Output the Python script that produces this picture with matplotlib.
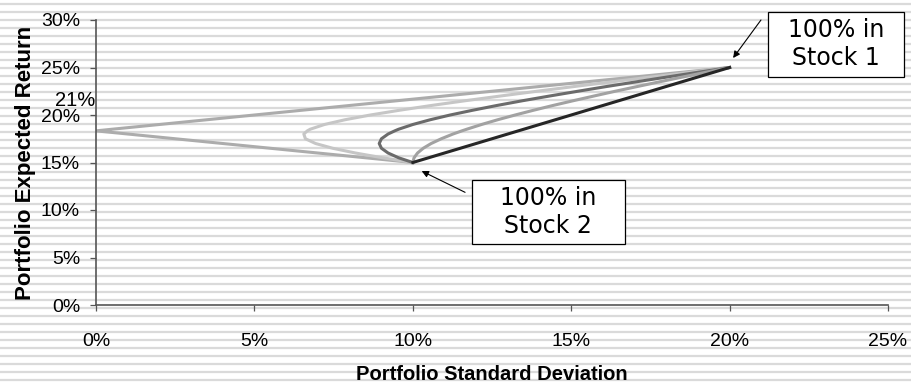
import matplotlib.pyplot as plt
import matplotlib.patches as patches
import numpy as np
from matplotlib.ticker import FuncFormatter

# expected return (%) along each curve, stock 2 -> stock 1
ret = [15.0, 15.5, 16.0, 16.5, 17.0, 17.5, 18.0, 18.33, 18.5, 19.0, 19.5,
       20.0, 20.5, 21.0, 21.5, 22.0, 22.5, 23.0, 23.5, 24.0, 24.5, 25.0]

# portfolio standard deviation (%) for each correlation
sd_neg1 = [10.0, 8.5, 7.0, 5.5, 4.0, 2.5, 1.0, 0.0, 0.5, 2.0, 3.5,
           5.0, 6.5, 8.0, 9.5, 11.0, 12.5, 14.0, 15.5, 17.0, 18.5, 20.0]
sd_neg05 = [10.0, 9.04, 8.19, 7.47, 6.93, 6.61, 6.56, 6.67, 6.76, 7.21, 7.86,
            8.66, 9.58, 10.58, 11.65, 12.77, 13.92, 15.10, 16.30, 17.52, 18.76, 20.0]
sd_zero = [10.0, 9.55, 9.22, 9.01, 8.94, 9.01, 9.22, 9.43, 9.55, 10.0, 10.55,
           11.18, 11.89, 12.65, 13.46, 14.32, 15.21, 16.12, 17.07, 18.03, 19.01, 20.0]
sd_pos05 = [10.0, 10.04, 10.15, 10.33, 10.58, 10.90, 11.27, 11.55, 11.70, 12.17, 12.68,
            13.23, 13.81, 14.42, 15.06, 15.72, 16.39, 17.09, 17.80, 18.52, 19.25, 20.0]
sd_pos1 = [10.0, 10.5, 11.0, 11.5, 12.0, 12.5, 13.0, 13.33, 13.5, 14.0, 14.5,
           15.0, 15.5, 16.0, 16.5, 17.0, 17.5, 18.0, 18.5, 19.0, 19.5, 20.0]

curves = [sd_neg1, sd_neg05, sd_zero, sd_pos05, sd_pos1]
colors = ['#acacac', '#c6c6c6', '#6b6b6b', '#a2a2a2', '#262626']

xticks = [0, 5, 10, 15, 20, 25]
yticks = [0, 5, 10, 15, 20, 25, 30]

W, H = 912, 387
fig = plt.figure(figsize=(W / 100, H / 100), dpi=100)
fig.patch.set_facecolor('white')

# striped background over the whole figure
bg = fig.add_axes([0, 0, 1, 1], zorder=-1)
bg.set_xlim(0, W)
bg.set_ylim(H, 0)
bg.hlines(np.arange(4, H, 8.0), 0, W, color='#dadada', lw=1.6)
bg.axis('off')

ax = fig.add_axes([96 / W, (H - 305) / H, (888 - 96) / W, (305 - 20) / H])
ax.set_facecolor('none')

for sd, c in zip(curves, colors):
    ax.plot(sd, ret, color=c, lw=2.2, solid_joinstyle='round')

ax.set_xlim(0, 25)
ax.set_ylim(0, 30)
ax.set_xticks(xticks)
ax.set_yticks(yticks)
pct = FuncFormatter(lambda v, p: f'{v:.0f}%')
ax.xaxis.set_major_formatter(pct)
ax.yaxis.set_major_formatter(pct)

for s in ['top', 'right']:
    ax.spines[s].set_visible(False)
for s in ['left', 'bottom']:
    ax.spines[s].set_color('#555555')
    ax.spines[s].set_linewidth(1.2)

tick_font = 'Liberation Sans'
ax.tick_params(axis='both', direction='out', length=4.5, width=0.9, color='#555555',
               labelsize=14)
ax.tick_params(axis='x', pad=16)
ax.tick_params(axis='y', pad=7)
for lab in ax.get_xticklabels() + ax.get_yticklabels():
    lab.set_fontfamily(tick_font)

ax.set_xlabel('Portfolio Standard Deviation', fontfamily=tick_font,
              fontweight='bold', fontsize=14.5)
ax.xaxis.set_label_coords(0.5, -0.21)
ax.set_ylabel('Portfolio Expected Return', fontfamily=tick_font,
              fontweight='bold', fontsize=16)
ax.yaxis.set_label_coords(-0.076, 0.5)

# stray value label next to the y axis
ax.text(-0.66, 20.9, '21%', fontfamily=tick_font, fontsize=14.5,
        ha='center', va='baseline', clip_on=False)

# callout boxes
box_font = 'DejaVu Sans'
ax.add_patch(patches.Rectangle((21.21, 24.05), 4.29, 6.79, transform=ax.transData,
                               facecolor='white', edgecolor='black', lw=0.9,
                               clip_on=False, zorder=5))
ax.text(23.36, 27.45, '100% in\nStock 1', fontfamily=box_font, fontsize=17,
        ha='center', va='center', linespacing=1.2, zorder=6, clip_on=False)
ax.annotate('', xy=(20.11, 26.0), xytext=(20.99, 30.0),
            arrowprops=dict(arrowstyle='-|>', color='black', lw=0.8,
                            mutation_scale=10, shrinkA=0, shrinkB=0),
            annotation_clip=False)

ax.add_patch(patches.Rectangle((11.87, 6.42), 4.83, 6.74, transform=ax.transData,
                               facecolor='white', edgecolor='black', lw=0.9,
                               clip_on=False, zorder=5))
ax.text(14.28, 9.79, '100% in\nStock 2', fontfamily=box_font, fontsize=17,
        ha='center', va='center', linespacing=1.2, zorder=6, clip_on=False)
ax.annotate('', xy=(10.28, 14.1), xytext=(11.65, 11.86),
            arrowprops=dict(arrowstyle='-|>', color='black', lw=0.8,
                            mutation_scale=10, shrinkA=0, shrinkB=0),
            annotation_clip=False)

fig.savefig('out.png', dpi=100)
